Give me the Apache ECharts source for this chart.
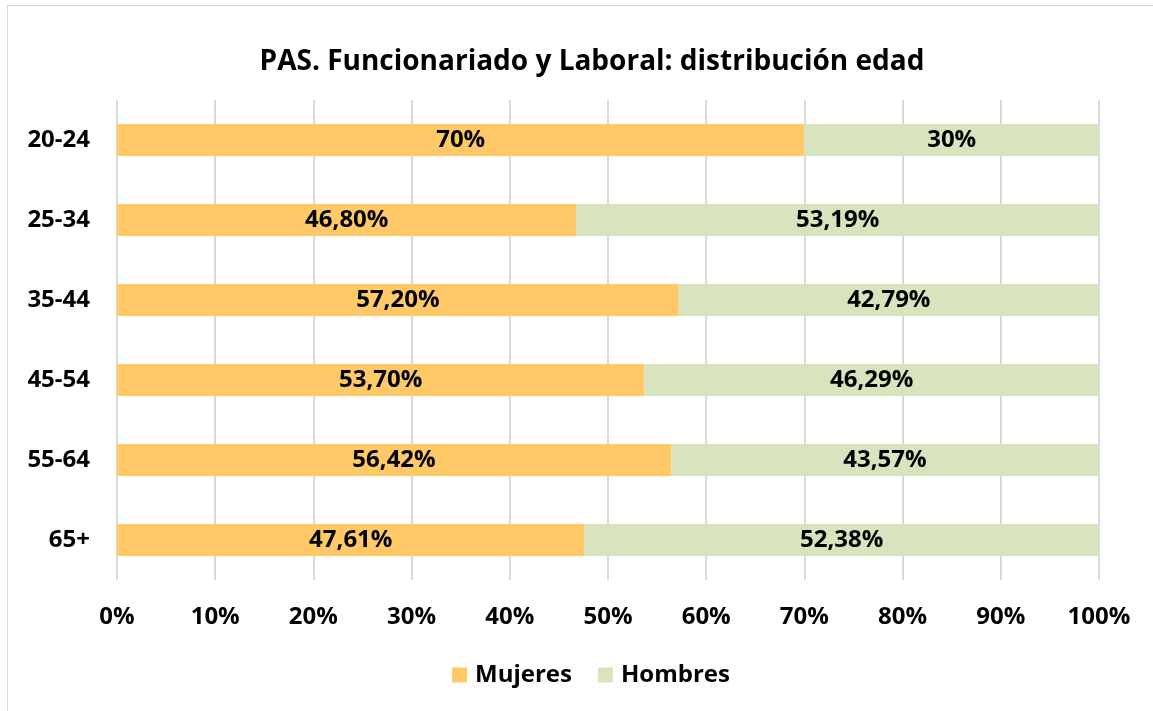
<!DOCTYPE html>
<html>
<head>
<meta charset="utf-8">
<script src="https://cdn.jsdelivr.net/npm/echarts@6/dist/echarts.min.js"></script>
<style>
  html, body { margin: 0; padding: 0; background: #fff; overflow: hidden; }
  #frame { position: absolute; left: 7px; top: 5px; width: 1160px; height: 720px;
           border-left: 1px solid #d9d9d9; border-top: 1px solid #d9d9d9; box-sizing: border-box; }
  #chart { position: absolute; left: 0; top: 0; width: 1153px; height: 711px; }
</style>
</head>
<body>
<div id="frame"></div>
<div id="chart"></div>
<script>
// rangos de edad, de arriba abajo
const categories = ['20-24', '25-34', '35-44', '45-54', '55-64', '65+']
const mujeres = [70, 46.80, 57.20, 53.70, 56.42, 47.61]
const hombres = [30, 53.19, 42.79, 46.29, 43.57, 52.38]
const mujeresLabels = ['70%', '46,80%', '57,20%', '53,70%', '56,42%', '47,61%']
const hombresLabels = ['30%', '53,19%', '42,79%', '46,29%', '43,57%', '52,38%']

const FONT = '"Open Sans", sans-serif'
const SIZE = 24

const chart = echarts.init(document.getElementById('chart'))

function labelOf(texts) {
  return {
    show: true,
    position: 'inside',
    formatter: (p) => texts[p.dataIndex],
    color: '#000',
    fontFamily: FONT,
    fontWeight: 'bold',
    fontSize: SIZE
  }
}

chart.setOption({
  animation: false,
  title: {
    text: 'PAS. Funcionariado y Laboral: distribución edad',
    left: 587,
    textAlign: 'center',
    top: 43,
    textStyle: { fontFamily: FONT, fontWeight: 'bold', fontSize: 28, color: '#000' }
  },
  legend: {
    top: 658,
    left: 447,
    itemWidth: 15,
    itemHeight: 15,
    itemGap: 26,
    icon: 'rect',
    textStyle: { fontFamily: FONT, fontWeight: 'bold', fontSize: SIZE, color: '#000', padding: [0, 0, 0, 3] },
    data: ['Mujeres', 'Hombres']
  },
  grid: { left: 117, right: 54, top: 100, bottom: 131, containLabel: false },
  xAxis: {
    type: 'value',
    min: 0,
    max: 100,
    interval: 10,
    axisLine: { show: false },
    axisTick: { show: false },
    splitLine: { lineStyle: { color: '#d9d9d9', width: 2 } },
    axisLabel: {
      formatter: '{value}%',
      margin: 25,
      color: '#000',
      fontFamily: FONT,
      fontWeight: 'bold',
      fontSize: SIZE
    }
  },
  yAxis: {
    type: 'category',
    data: categories,
    inverse: true,
    axisLine: { show: false },
    axisTick: { show: false },
    axisLabel: {
      margin: 27,
      color: '#000',
      fontFamily: FONT,
      fontWeight: 'bold',
      fontSize: SIZE
    }
  },
  series: [
    {
      name: 'Mujeres',
      type: 'bar',
      stack: 'total',
      barWidth: 32,
      itemStyle: { color: '#fec966' },
      label: labelOf(mujeresLabels),
      data: mujeres
    },
    {
      name: 'Hombres',
      type: 'bar',
      stack: 'total',
      barWidth: 32,
      itemStyle: { color: '#d8e4bd' },
      label: labelOf(hombresLabels),
      data: hombres
    }
  ]
})
</script>
</body>
</html>
